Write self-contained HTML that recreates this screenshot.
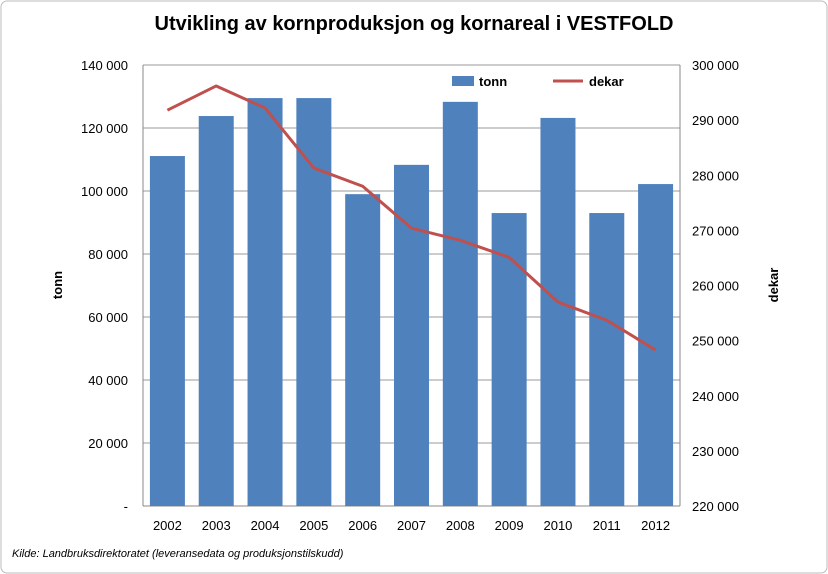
<!DOCTYPE html>
<html><head><meta charset="utf-8"><style>
body{margin:0;background:#fff;}
svg{display:block;font-family:"Liberation Sans",sans-serif;}
</style></head><body>
<svg id="chart" width="828" height="574">
<rect x="1" y="1" width="826" height="572" rx="6" fill="#fff" stroke="#bbb"/>
<text x="414" y="30" text-anchor="middle" font-size="20" font-weight="bold">Utvikling av kornproduksjon og kornareal i VESTFOLD</text>
<g id="grid"></g><g id="bars"></g><g id="line"></g><g id="axes"></g>
<text transform="translate(62,285) rotate(-90)" text-anchor="middle" font-size="13" font-weight="bold">tonn</text>
<text transform="translate(778,285) rotate(-90)" text-anchor="middle" font-size="13" font-weight="bold">dekar</text>
<g>
<rect x="452" y="76" width="22" height="10" fill="#4f81bd"/>
<text x="479" y="86" font-size="13" font-weight="bold">tonn</text>
<line x1="553" y1="81" x2="583" y2="81" stroke="#c0504d" stroke-width="3"/>
<text x="589" y="86" font-size="13" font-weight="bold">dekar</text>
</g>
<text x="12" y="557" font-size="11" font-style="italic">Kilde: Landbruksdirektoratet  (leveransedata  og  produksjonstilskudd)</text>
</svg>
<script>
const years=["2002","2003","2004","2005","2006","2007","2008","2009","2010","2011","2012"];
const tonn=[111100,123800,129500,129500,99000,108300,128300,93000,123200,93000,102200];
const dekar=[291800,296200,292200,281300,278000,270400,268200,265100,257000,253700,248300];
const leftTicks=[0,20000,40000,60000,80000,100000,120000,140000];
const leftLabels=["-","20 000","40 000","60 000","80 000","100 000","120 000","140 000"];
const rightTicks=[220000,230000,240000,250000,260000,270000,280000,290000,300000];
const rightLabels=["220 000","230 000","240 000","250 000","260 000","270 000","280 000","290 000","300 000"];
const NS="http://www.w3.org/2000/svg";
const X0=143,X1=680,Y0=506,Y1=65;
const step=(X1-X0)/years.length;
const xc=i=>X0+step*(i+0.5);
const yL=v=>Y0-(v/140000)*(Y0-Y1);
const yR=v=>Y0-((v-220000)/80000)*(Y0-Y1);
function mk(t,a,p){const e=document.createElementNS(NS,t);for(const k in a)e.setAttribute(k,a[k]);document.getElementById(p).appendChild(e);return e;}
leftTicks.forEach((v,i)=>{
 const g=mk("line",{x1:X0,x2:X1,y1:yL(v),y2:yL(v),stroke:i==0?"#888":"#999"},"grid");
 
 
 const t=mk("text",{x:128,y:yL(v)+5,"text-anchor":"end","font-size":13},"axes");t.textContent=leftLabels[i];
 
 
});
rightTicks.forEach((v,i)=>{
 const t=mk("text",{x:692,y:yR(v)+5,"font-size":13},"axes");t.textContent=rightLabels[i];
 
 
});
const ax=mk("line",{x1:X0,x2:X0,y1:Y1,y2:Y0,stroke:"#888"},"axes");


const ax2=mk("line",{x1:X1,x2:X1,y1:Y1,y2:Y0,stroke:"#888"},"axes");


const bw=35;
years.forEach((y,i)=>{
 const b=mk("rect",{x:xc(i)-bw/2,y:yL(tonn[i]),width:bw,height:Y0-yL(tonn[i]),fill:"#4f81bd"},"bars");
 
 
 const t=mk("text",{x:xc(i),y:530,"text-anchor":"middle","font-size":13},"axes");t.textContent=y;
 
 
});
const pts=dekar.map((v,i)=>xc(i)+","+yR(v)).join(" ");
const pl=mk("polyline",{points:pts,fill:"none",stroke:"#c0504d","stroke-width":3,"stroke-linejoin":"round"},"line");


</script>
</body></html>
